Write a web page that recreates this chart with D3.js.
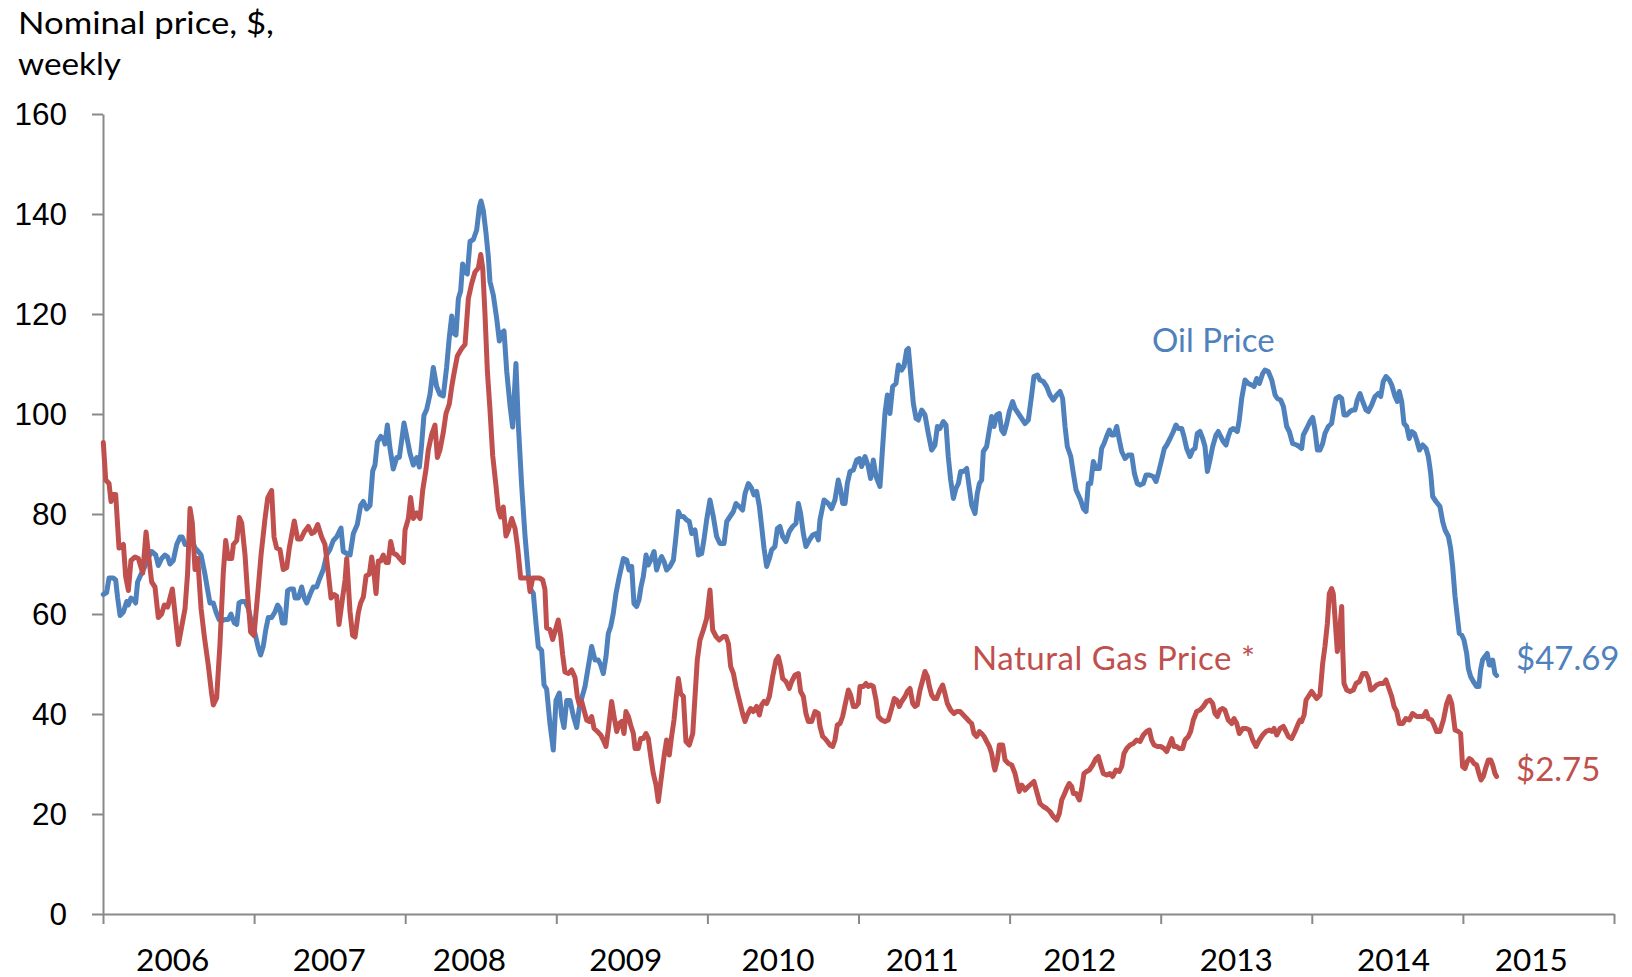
<!DOCTYPE html>
<html>
<head>
<meta charset="utf-8">
<style>
  body { margin: 0; background: #fff; }
  svg { display: block; font-family: Lato, "Open Sans", sans-serif; }
  .axis path, .axis line { stroke: #898989; stroke-width: 2px; fill: none; }
  .axis text { fill: #000; font-size: 31.5px; }
  .year { fill: #000; font-size: 31.5px; }
  .title { fill: #000; font-size: 30px; }
  .label { font-size: 33px; }
</style>
</head>
<body>
<svg id="chart" width="1632" height="977"></svg>
<script src="https://cdnjs.cloudflare.com/ajax/libs/d3/7.8.5/d3.min.js"></script>
<script>
// weekly prices: [decimal year, $]
// gas price is shown x10 so it shares the axis with oil
var oilPrice = [
  [2006.002,63.9],[2006.024,64.3],[2006.040,67.2],[2006.068,67.2],[2006.084,66.8],[2006.097,63.2],[2006.113,59.7],[2006.135,60.4],
  [2006.157,62.5],[2006.168,61.8],[2006.185,63.2],[2006.201,62.9],[2006.216,62.2],[2006.229,66.4],[2006.251,67.9],[2006.274,69.3],
  [2006.296,71.1],[2006.322,72.5],[2006.349,71.8],[2006.366,69.7],[2006.388,71.1],[2006.410,71.8],[2006.428,71.4],[2006.443,70.0],
  [2006.465,70.7],[2006.488,73.9],[2006.510,75.4],[2006.525,75.4],[2006.543,73.9],[2006.565,73.9],[2006.591,74.7],[2006.609,73.2],
  [2006.631,72.5],[2006.649,71.8],[2006.675,67.9],[2006.693,64.7],[2006.708,62.2],[2006.730,62.2],[2006.748,60.4],[2006.768,58.9],
  [2006.785,58.6],[2006.807,58.9],[2006.829,58.9],[2006.847,60.0],[2006.869,58.2],[2006.885,57.9],[2006.900,62.2],[2006.918,62.5],
  [2006.940,62.5],[2006.962,61.1],[2006.984,58.2],[2007.006,56.1],[2007.028,53.2],[2007.043,51.8],[2007.061,53.6],[2007.077,56.8],
  [2007.094,59.3],[2007.116,59.3],[2007.138,60.4],[2007.156,61.8],[2007.171,61.1],[2007.187,58.2],[2007.204,58.2],[2007.222,64.7],
  [2007.238,65.0],[2007.260,65.0],[2007.271,63.2],[2007.293,63.2],[2007.315,65.4],[2007.332,63.2],[2007.348,62.2],[2007.370,63.9],
  [2007.392,65.4],[2007.414,65.4],[2007.430,66.8],[2007.458,68.9],[2007.480,71.8],[2007.502,72.9],[2007.524,74.7],[2007.546,75.4],
  [2007.575,77.2],[2007.590,72.5],[2007.613,72.1],[2007.635,71.8],[2007.657,76.1],[2007.683,77.9],[2007.705,81.7],[2007.723,82.5],
  [2007.745,81.0],[2007.767,81.7],[2007.785,88.6],[2007.800,89.8],[2007.816,94.4],[2007.838,95.5],[2007.855,95.1],[2007.866,94.0],
  [2007.882,97.8],[2007.899,93.2],[2007.921,89.0],[2007.944,91.3],[2007.961,91.3],[2007.977,94.8],[2007.992,98.2],[2008.010,95.5],
  [2008.032,92.1],[2008.054,89.8],[2008.076,91.3],[2008.094,89.4],[2008.109,94.0],[2008.124,99.7],[2008.142,100.9],[2008.164,103.9],
  [2008.186,109.3],[2008.208,105.5],[2008.230,103.9],[2008.252,103.6],[2008.274,109.3],[2008.292,115.4],[2008.308,119.6],[2008.319,116.2],
  [2008.336,115.8],[2008.352,123.1],[2008.367,124.6],[2008.380,130.0],[2008.396,128.4],[2008.411,128.0],[2008.429,134.5],[2008.451,134.9],
  [2008.473,136.8],[2008.491,141.4],[2008.502,142.6],[2008.517,140.7],[2008.535,136.1],[2008.550,131.5],[2008.561,126.5],[2008.583,123.8],
  [2008.605,119.2],[2008.623,114.6],[2008.638,116.2],[2008.654,116.6],[2008.672,108.5],[2008.694,101.6],[2008.711,97.4],[2008.733,110.1],
  [2008.749,97.8],[2008.771,85.6],[2008.793,75.6],[2008.815,68.0],[2008.830,64.9],[2008.848,64.1],[2008.866,58.0],[2008.881,53.4],
  [2008.903,52.7],[2008.919,45.8],[2008.936,45.0],[2008.958,38.1],[2008.980,32.8],[2008.998,42.7],[2009.020,44.2],[2009.035,39.6],
  [2009.051,37.3],[2009.069,42.7],[2009.091,42.7],[2009.113,39.6],[2009.135,37.3],[2009.152,41.2],[2009.168,43.1],[2009.190,45.5],
  [2009.212,49.5],[2009.234,53.5],[2009.256,50.8],[2009.278,50.8],[2009.294,49.8],[2009.311,48.1],[2009.329,51.5],[2009.344,56.1],
  [2009.360,57.5],[2009.377,60.1],[2009.395,64.1],[2009.417,67.5],[2009.444,71.1],[2009.466,70.8],[2009.481,68.8],[2009.499,69.5],
  [2009.514,62.1],[2009.532,61.5],[2009.547,62.8],[2009.561,65.5],[2009.576,67.5],[2009.594,71.8],[2009.609,69.8],[2009.625,70.8],
  [2009.647,72.5],[2009.664,68.8],[2009.682,70.5],[2009.697,71.5],[2009.713,70.5],[2009.730,68.8],[2009.752,69.5],[2009.775,70.8],
  [2009.792,75.5],[2009.808,80.5],[2009.823,79.5],[2009.841,79.5],[2009.863,78.8],[2009.880,78.5],[2009.896,76.1],[2009.918,76.8],
  [2009.940,71.8],[2009.962,72.1],[2009.977,74.8],[2009.995,78.8],[2010.017,82.8],[2010.039,79.5],[2010.061,75.5],[2010.083,74.1],
  [2010.110,74.1],[2010.128,78.5],[2010.150,79.5],[2010.172,80.5],[2010.189,82.1],[2010.211,81.5],[2010.233,80.8],[2010.249,84.1],
  [2010.271,86.1],[2010.293,85.1],[2010.308,83.8],[2010.326,84.5],[2010.344,81.5],[2010.359,77.5],[2010.375,73.1],[2010.392,69.5],
  [2010.410,71.1],[2010.425,72.8],[2010.447,73.5],[2010.463,77.1],[2010.480,77.5],[2010.498,75.5],[2010.520,74.5],[2010.542,76.5],
  [2010.564,77.5],[2010.586,78.1],[2010.602,82.1],[2010.617,80.1],[2010.635,76.1],[2010.652,73.5],[2010.675,74.8],[2010.697,75.8],
  [2010.719,76.1],[2010.734,74.8],[2010.745,78.8],[2010.772,82.8],[2010.800,82.1],[2010.822,81.1],[2010.844,82.8],[2010.866,86.8],
  [2010.882,84.8],[2010.895,82.1],[2010.911,82.1],[2010.926,86.1],[2010.944,88.5],[2010.966,88.8],[2010.988,90.8],[2011.006,91.1],
  [2011.021,89.5],[2011.043,91.5],[2011.065,89.5],[2011.080,87.1],[2011.098,90.8],[2011.116,87.5],[2011.142,85.5],[2011.160,93.5],
  [2011.175,100.1],[2011.191,103.8],[2011.208,100.1],[2011.226,105.5],[2011.248,106.1],[2011.264,109.8],[2011.286,108.8],[2011.301,109.5],
  [2011.319,112.8],[2011.330,113.1],[2011.345,108.1],[2011.363,102.1],[2011.381,99.1],[2011.396,98.8],[2011.418,100.8],[2011.440,99.8],
  [2011.462,96.1],[2011.484,92.8],[2011.506,93.8],[2011.522,97.5],[2011.539,97.1],[2011.561,98.5],[2011.579,97.8],[2011.594,91.5],
  [2011.610,86.8],[2011.628,83.1],[2011.645,85.1],[2011.661,86.1],[2011.676,88.5],[2011.694,88.5],[2011.716,89.1],[2011.734,85.1],
  [2011.749,81.8],[2011.771,80.1],[2011.786,84.1],[2011.800,86.1],[2011.815,86.8],[2011.826,92.5],[2011.848,93.5],[2011.866,96.8],
  [2011.881,99.5],[2011.897,97.5],[2011.914,99.8],[2011.932,100.1],[2011.947,96.8],[2011.963,96.1],[2011.981,98.1],[2011.998,100.5],
  [2012.020,102.5],[2012.036,101.1],[2012.058,100.1],[2012.080,99.1],[2012.102,98.1],[2012.124,98.8],[2012.146,103.8],[2012.161,107.5],
  [2012.184,107.8],[2012.201,106.8],[2012.223,106.5],[2012.245,105.5],[2012.267,103.8],[2012.289,102.8],[2012.312,103.8],[2012.334,104.5],
  [2012.351,103.1],[2012.367,97.5],[2012.382,93.5],[2012.405,91.5],[2012.422,88.1],[2012.440,84.8],[2012.455,83.8],[2012.470,82.8],
  [2012.488,81.1],[2012.506,80.5],[2012.521,86.1],[2012.537,86.1],[2012.554,90.5],[2012.572,89.1],[2012.594,89.1],[2012.609,93.1],
  [2012.625,94.1],[2012.642,95.5],[2012.660,96.8],[2012.675,95.8],[2012.691,95.8],[2012.709,97.5],[2012.726,94.8],[2012.742,92.5],
  [2012.764,91.1],[2012.786,91.8],[2012.808,91.8],[2012.826,88.1],[2012.845,86.1],[2012.863,85.8],[2012.885,86.1],[2012.903,87.8],
  [2012.925,87.8],[2012.951,87.5],[2012.969,86.5],[2012.984,88.1],[2013.006,90.8],[2013.024,93.1],[2013.040,93.8],[2013.062,95.1],
  [2013.084,96.5],[2013.101,97.8],[2013.117,97.1],[2013.139,97.1],[2013.154,95.5],[2013.172,93.1],[2013.194,91.5],[2013.212,92.8],
  [2013.227,93.1],[2013.242,96.1],[2013.260,96.5],[2013.278,95.1],[2013.293,93.5],[2013.309,88.5],[2013.326,90.8],[2013.344,93.5],
  [2013.366,95.8],[2013.381,96.5],[2013.397,95.5],[2013.414,94.5],[2013.432,93.8],[2013.447,95.5],[2013.463,96.8],[2013.481,97.1],
  [2013.507,96.5],[2013.520,98.8],[2013.536,103.1],[2013.558,106.8],[2013.580,106.1],[2013.602,105.8],[2013.618,105.5],[2013.635,107.1],
  [2013.653,106.1],[2013.675,108.1],[2013.690,108.8],[2013.712,108.5],[2013.735,106.8],[2013.757,103.8],[2013.772,103.1],[2013.794,102.8],
  [2013.812,101.5],[2013.834,97.5],[2013.851,96.5],[2013.873,94.1],[2013.900,93.8],[2013.917,93.5],[2013.933,93.1],[2013.944,95.8],
  [2013.966,97.1],[2013.988,98.5],[2014.006,99.3],[2014.021,96.8],[2014.037,92.8],[2014.054,92.8],[2014.072,94.1],[2014.087,96.1],
  [2014.109,97.5],[2014.131,98.1],[2014.147,101.1],[2014.160,103.1],[2014.182,103.5],[2014.198,103.1],[2014.213,99.8],[2014.231,99.8],
  [2014.253,100.5],[2014.270,100.8],[2014.286,100.8],[2014.301,102.8],[2014.319,104.1],[2014.337,102.5],[2014.359,100.8],[2014.374,100.5],
  [2014.396,101.8],[2014.418,103.5],[2014.440,104.1],[2014.456,103.5],[2014.473,106.5],[2014.491,107.5],[2014.513,106.8],[2014.529,105.8],
  [2014.551,103.5],[2014.566,102.5],[2014.579,104.5],[2014.595,102.5],[2014.610,98.1],[2014.628,97.5],[2014.645,95.1],[2014.661,96.5],
  [2014.679,96.1],[2014.694,94.8],[2014.712,92.8],[2014.734,93.8],[2014.756,93.1],[2014.771,91.5],[2014.787,88.1],[2014.800,83.5],
  [2014.822,82.5],[2014.848,81.5],[2014.866,78.5],[2014.882,76.8],[2014.904,75.5],[2014.919,73.1],[2014.932,69.5],[2014.948,63.5],
  [2014.963,59.5],[2014.976,56.1],[2014.992,55.8],[2015.007,54.8],[2015.025,52.1],[2015.036,49.1],[2015.051,47.5],[2015.069,46.5],
  [2015.091,45.5],[2015.106,45.5],[2015.117,48.8],[2015.130,50.8],[2015.146,51.5],[2015.161,52.1],[2015.175,49.8],[2015.186,49.8],
  [2015.197,50.8],[2015.212,48.1],[2015.223,47.7]
];

var gasPrice = [
  [2006.002,94.3],[2006.018,86.8],[2006.040,86.1],[2006.053,82.5],[2006.068,83.9],[2006.084,83.9],[2006.106,73.2],[2006.135,73.9],
  [2006.150,67.5],[2006.168,64.7],[2006.185,70.7],[2006.212,71.4],[2006.234,71.1],[2006.263,68.2],[2006.285,76.4],[2006.304,71.1],
  [2006.322,66.4],[2006.344,65.4],[2006.366,59.3],[2006.388,60.0],[2006.406,61.8],[2006.428,61.4],[2006.459,65.0],[2006.481,58.9],
  [2006.499,53.9],[2006.521,57.5],[2006.543,61.1],[2006.560,68.2],[2006.576,81.1],[2006.591,78.2],[2006.609,68.9],[2006.627,71.1],
  [2006.649,61.1],[2006.671,55.4],[2006.697,49.7],[2006.719,44.0],[2006.730,41.8],[2006.752,43.2],[2006.774,53.9],[2006.796,68.2],
  [2006.812,74.7],[2006.829,71.1],[2006.852,71.1],[2006.863,73.9],[2006.885,74.7],[2006.902,79.3],[2006.918,78.2],[2006.940,71.8],
  [2006.957,64.0],[2006.977,56.4],[2006.999,55.7],[2007.024,64.0],[2007.046,71.8],[2007.072,79.0],[2007.090,83.2],[2007.116,84.7],
  [2007.132,75.4],[2007.149,73.2],[2007.171,72.9],[2007.193,68.9],[2007.216,69.3],[2007.233,73.2],[2007.266,78.6],[2007.288,75.0],
  [2007.310,75.0],[2007.332,76.4],[2007.359,77.5],[2007.381,76.1],[2007.399,76.4],[2007.421,77.9],[2007.447,75.4],[2007.469,73.9],
  [2007.491,68.2],[2007.509,63.2],[2007.531,63.9],[2007.546,63.6],[2007.562,57.9],[2007.584,62.9],[2007.602,66.8],[2007.613,71.1],
  [2007.635,60.4],[2007.652,55.7],[2007.668,55.4],[2007.690,60.3],[2007.705,62.2],[2007.723,63.4],[2007.741,67.6],[2007.763,68.0],
  [2007.778,71.4],[2007.794,68.0],[2007.807,64.1],[2007.822,70.6],[2007.838,70.6],[2007.855,71.8],[2007.873,70.3],[2007.888,70.3],
  [2007.904,74.5],[2007.921,72.2],[2007.944,71.8],[2007.966,71.0],[2007.988,70.3],[2007.999,76.8],[2008.021,79.1],[2008.036,83.3],
  [2008.054,79.1],[2008.076,80.2],[2008.098,79.1],[2008.116,84.8],[2008.138,89.0],[2008.153,92.8],[2008.175,95.9],[2008.197,97.8],
  [2008.213,91.3],[2008.230,92.8],[2008.252,96.3],[2008.270,100.1],[2008.292,102.0],[2008.308,105.5],[2008.323,108.1],[2008.345,111.6],
  [2008.374,113.1],[2008.396,113.9],[2008.418,123.1],[2008.440,126.1],[2008.462,128.4],[2008.484,129.2],[2008.500,131.9],[2008.513,129.2],
  [2008.528,120.0],[2008.544,108.5],[2008.561,100.9],[2008.579,91.7],[2008.601,85.6],[2008.616,81.0],[2008.632,79.4],[2008.649,81.4],
  [2008.667,75.6],[2008.683,76.8],[2008.705,79.1],[2008.727,77.1],[2008.744,73.3],[2008.764,67.2],[2008.793,67.2],[2008.815,67.2],
  [2008.826,64.5],[2008.844,67.2],[2008.866,67.2],[2008.888,67.2],[2008.910,66.8],[2008.925,64.9],[2008.936,57.2],[2008.958,56.9],
  [2008.976,54.9],[2008.998,57.2],[2009.013,58.8],[2009.029,55.7],[2009.042,51.9],[2009.057,48.4],[2009.080,48.1],[2009.102,48.8],
  [2009.124,47.3],[2009.139,43.5],[2009.152,41.9],[2009.168,42.5],[2009.183,40.8],[2009.201,38.8],[2009.219,38.5],[2009.234,39.5],
  [2009.250,37.1],[2009.272,36.5],[2009.294,35.8],[2009.311,34.8],[2009.329,33.5],[2009.344,36.8],[2009.366,42.5],[2009.382,39.5],
  [2009.400,36.5],[2009.417,38.1],[2009.433,38.5],[2009.448,36.1],[2009.461,40.5],[2009.477,39.5],[2009.492,37.8],[2009.510,36.1],
  [2009.521,33.1],[2009.543,33.1],[2009.558,35.1],[2009.576,35.1],[2009.594,36.1],[2009.609,35.1],[2009.625,31.5],[2009.642,28.1],
  [2009.660,25.8],[2009.675,22.5],[2009.693,26.8],[2009.713,31.5],[2009.730,34.8],[2009.748,31.8],[2009.763,35.5],[2009.779,38.8],
  [2009.792,42.8],[2009.808,47.1],[2009.823,44.1],[2009.841,43.5],[2009.858,34.5],[2009.880,33.8],[2009.903,36.1],[2009.918,43.5],
  [2009.933,50.8],[2009.951,54.8],[2009.973,56.8],[2009.995,59.1],[2010.017,64.8],[2010.035,56.8],[2010.057,55.5],[2010.079,54.8],
  [2010.105,55.5],[2010.123,55.5],[2010.139,54.1],[2010.154,49.5],[2010.172,48.1],[2010.189,45.5],[2010.211,42.8],[2010.233,40.1],
  [2010.249,38.5],[2010.264,39.8],[2010.286,41.1],[2010.304,40.5],[2010.326,41.5],[2010.344,39.8],[2010.359,41.8],[2010.375,42.5],
  [2010.392,42.1],[2010.410,43.5],[2010.432,47.5],[2010.454,50.8],[2010.469,51.5],[2010.485,49.5],[2010.498,47.1],[2010.520,46.5],
  [2010.542,45.1],[2010.558,46.5],[2010.580,47.8],[2010.602,48.1],[2010.617,44.5],[2010.635,43.5],[2010.652,40.1],[2010.668,38.5],
  [2010.690,38.5],[2010.712,40.5],[2010.734,40.1],[2010.745,37.5],[2010.763,35.5],[2010.778,35.1],[2010.794,34.5],[2010.811,33.8],
  [2010.829,33.5],[2010.844,34.8],[2010.860,37.8],[2010.878,38.1],[2010.895,39.5],[2010.911,41.8],[2010.933,44.8],[2010.948,43.8],
  [2010.966,41.5],[2010.983,41.5],[2010.999,42.1],[2011.010,45.5],[2011.032,45.5],[2011.050,46.1],[2011.065,45.5],[2011.080,45.8],
  [2011.098,45.5],[2011.116,42.8],[2011.131,39.5],[2011.153,38.8],[2011.175,38.5],[2011.197,38.8],[2011.219,41.1],[2011.237,43.1],
  [2011.253,42.8],[2011.270,41.5],[2011.286,42.5],[2011.308,43.5],[2011.323,44.5],[2011.341,45.1],[2011.359,42.1],[2011.374,41.5],
  [2011.389,41.8],[2011.407,44.8],[2011.425,46.8],[2011.440,48.5],[2011.456,47.5],[2011.469,45.5],[2011.484,43.8],[2011.500,43.1],
  [2011.517,43.1],[2011.539,44.8],[2011.557,45.8],[2011.572,44.1],[2011.588,42.1],[2011.610,40.8],[2011.632,40.1],[2011.650,40.5],
  [2011.672,40.5],[2011.694,39.8],[2011.716,39.1],[2011.734,38.5],[2011.749,38.1],[2011.764,36.1],[2011.782,35.5],[2011.800,36.5],
  [2011.815,36.1],[2011.831,35.5],[2011.848,34.5],[2011.866,33.5],[2011.881,32.1],[2011.897,29.5],[2011.903,28.8],[2011.919,30.8],
  [2011.932,33.8],[2011.954,33.8],[2011.970,30.8],[2011.992,30.1],[2012.014,29.8],[2012.036,28.1],[2012.051,26.1],[2012.064,24.5],
  [2012.080,25.8],[2012.102,24.8],[2012.124,25.5],[2012.146,26.1],[2012.161,26.5],[2012.179,24.5],[2012.201,22.1],[2012.223,21.5],
  [2012.245,21.1],[2012.267,20.5],[2012.289,19.5],[2012.312,18.8],[2012.329,20.1],[2012.345,22.8],[2012.360,23.8],[2012.378,25.1],
  [2012.395,26.1],[2012.411,25.5],[2012.422,24.1],[2012.440,24.1],[2012.462,22.8],[2012.477,25.1],[2012.492,28.1],[2012.510,28.5],
  [2012.528,28.8],[2012.550,29.8],[2012.572,31.1],[2012.587,31.5],[2012.603,29.8],[2012.620,28.1],[2012.642,27.8],[2012.664,28.1],
  [2012.682,27.5],[2012.704,28.8],[2012.726,28.5],[2012.742,29.5],[2012.757,32.1],[2012.775,33.1],[2012.797,33.8],[2012.819,34.1],
  [2012.841,34.8],[2012.863,34.5],[2012.885,35.8],[2012.907,36.5],[2012.925,36.8],[2012.940,34.8],[2012.956,33.8],[2012.978,33.5],
  [2013.000,33.5],[2013.022,33.1],[2013.040,32.5],[2013.057,33.8],[2013.073,35.1],[2013.088,33.5],[2013.106,33.5],[2013.123,33.1],
  [2013.145,33.1],[2013.161,34.8],[2013.183,35.5],[2013.198,36.5],[2013.216,38.8],[2013.238,40.5],[2013.260,40.8],[2013.282,41.5],
  [2013.304,42.5],[2013.326,42.8],[2013.344,42.1],[2013.359,40.1],[2013.375,39.5],[2013.392,40.8],[2013.410,41.1],[2013.425,40.8],
  [2013.447,38.8],[2013.470,38.1],[2013.485,39.1],[2013.503,38.1],[2013.520,36.1],[2013.543,37.1],[2013.565,37.1],[2013.587,36.8],
  [2013.609,34.8],[2013.631,33.5],[2013.653,34.8],[2013.675,35.8],[2013.697,36.5],[2013.719,36.8],[2013.735,36.5],[2013.750,37.1],
  [2013.768,35.8],[2013.790,37.1],[2013.812,37.5],[2013.829,36.5],[2013.845,35.5],[2013.867,35.1],[2013.889,36.5],[2013.911,38.1],
  [2013.922,38.8],[2013.933,38.5],[2013.949,39.8],[2013.962,42.8],[2013.977,43.5],[2013.999,44.5],[2014.015,43.8],[2014.032,43.1],
  [2014.054,43.8],[2014.072,50.1],[2014.087,53.5],[2014.103,58.1],[2014.116,64.1],[2014.131,65.1],[2014.142,64.1],[2014.153,59.5],
  [2014.169,52.5],[2014.187,57.5],[2014.198,61.5],[2014.204,53.5],[2014.213,46.1],[2014.231,44.8],[2014.253,44.5],[2014.275,44.8],
  [2014.293,46.1],[2014.315,46.5],[2014.337,48.1],[2014.359,48.1],[2014.374,47.1],[2014.390,44.8],[2014.407,45.1],[2014.429,45.8],
  [2014.451,46.1],[2014.473,46.1],[2014.491,46.8],[2014.506,45.5],[2014.529,43.5],[2014.544,41.5],[2014.562,40.5],[2014.579,38.1],
  [2014.601,38.1],[2014.623,39.1],[2014.645,38.8],[2014.667,40.1],[2014.694,39.5],[2014.716,39.5],[2014.738,39.5],[2014.756,40.5],
  [2014.771,39.1],[2014.793,38.8],[2014.809,37.8],[2014.826,36.5],[2014.848,36.5],[2014.871,38.8],[2014.893,42.1],[2014.910,43.5],
  [2014.926,42.1],[2014.937,39.5],[2014.948,36.8],[2014.970,36.5],[2014.985,36.1],[2014.998,29.5],[2015.014,29.1],[2015.029,30.5],
  [2015.043,31.1],[2015.058,30.8],[2015.073,30.1],[2015.091,29.8],[2015.106,28.1],[2015.120,26.8],[2015.135,27.5],[2015.150,29.1],
  [2015.168,30.8],[2015.184,30.8],[2015.197,29.8],[2015.212,28.1],[2015.223,27.5]
];

var yTicks = [0, 20, 40, 60, 80, 100, 120, 140, 160];
var yearTicks = [2006, 2007, 2008, 2009, 2010, 2011, 2012, 2013, 2014, 2015, 2016];
var yearLabels = ["2006", "2007", "2008", "2009", "2010", "2011", "2012", "2013", "2014", "2015"];
// where each year label sits along the axis (decimal year)
var yearLabelPos = [2006.461, 2007.497, 2008.425, 2009.460, 2010.467, 2011.422, 2012.465, 2013.500, 2014.541, 2015.453];

var oilColor = "#4F81BD", gasColor = "#C0504D";

var svg = d3.select("#chart");

var x = d3.scaleLinear().domain([2006, 2016]).range([103, 1614]);
var y = d3.scaleLinear().domain([0, 160]).range([914, 114]);

// axes
svg.append("g").attr("class", "axis")
    .attr("transform", "translate(103,0)")
    .call(d3.axisLeft(y).tickValues(yTicks).tickSize(11).tickSizeOuter(0).tickPadding(25));

svg.append("g").attr("class", "axis")
    .attr("transform", "translate(0,914)")
    .call(d3.axisBottom(x).tickValues(yearTicks).tickSize(10).tickSizeOuter(0).tickFormat(""));

svg.selectAll(".axis .domain").attr("stroke", "#898989");

svg.selectAll("text.year")
  .data(yearLabels).enter()
  .append("text")
    .attr("class", "year")
    .attr("x", (d, i) => x(yearLabelPos[i]))
    .attr("y", 971)
    .attr("text-anchor", "middle")
    .text(d => d);

// lines
var line = d3.line().x(d => x(d[0])).y(d => y(d[1]));

svg.append("path")
    .datum(oilPrice)
    .attr("d", line)
    .attr("fill", "none")
    .attr("stroke", oilColor)
    .attr("stroke-width", 5)
    .attr("stroke-linejoin", "round")
    .attr("stroke-linecap", "round");

svg.append("path")
    .datum(gasPrice)
    .attr("d", line)
    .attr("fill", "none")
    .attr("stroke", gasColor)
    .attr("stroke-width", 5)
    .attr("stroke-linejoin", "round")
    .attr("stroke-linecap", "round");

// title
svg.append("text").attr("class", "title")
    .attr("x", 18).attr("y", 34)
    .attr("textLength", 256).attr("lengthAdjust", "spacingAndGlyphs")
    .text("Nominal price, $,");
svg.append("text").attr("class", "title")
    .attr("x", 18).attr("y", 75)
    .attr("textLength", 103).attr("lengthAdjust", "spacingAndGlyphs")
    .text("weekly");

// series labels
svg.append("text").attr("class", "label").attr("fill", oilColor)
    .attr("x", 1152).attr("y", 352).text("Oil Price");
svg.append("text").attr("class", "label").attr("fill", gasColor)
    .attr("x", 972).attr("y", 670)
    .attr("textLength", 283).attr("lengthAdjust", "spacing")
    .text("Natural Gas Price *");
svg.append("text").attr("class", "label").attr("fill", oilColor)
    .attr("x", 1516).attr("y", 670).text("$47.69");
svg.append("text").attr("class", "label").attr("fill", gasColor)
    .attr("x", 1516).attr("y", 781).text("$2.75");
</script>
</body>
</html>
